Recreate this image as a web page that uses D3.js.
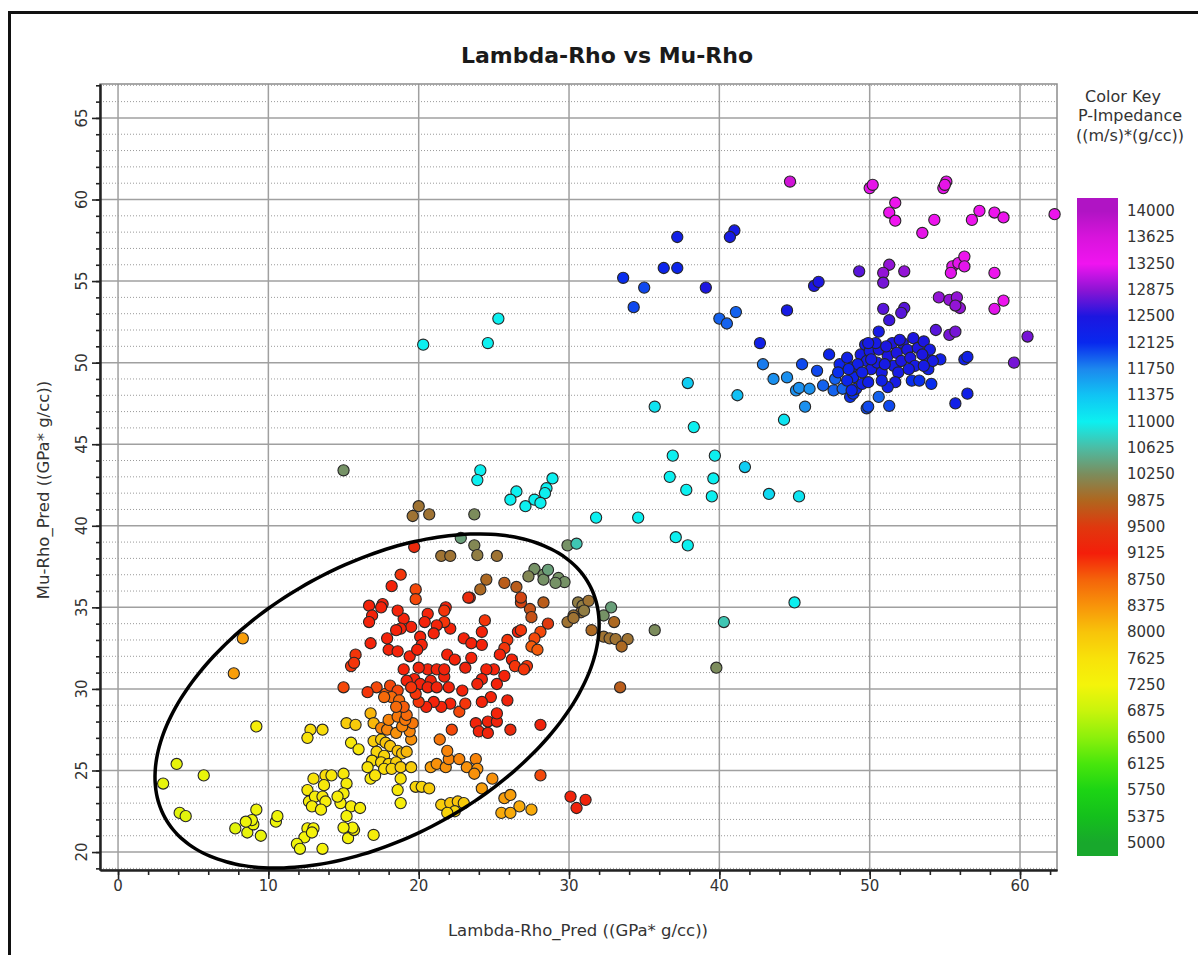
<!DOCTYPE html>
<html>
<head>
<meta charset="utf-8">
<script src="https://cdn.jsdelivr.net/npm/d3@7"></script>
<style>
body { margin: 0; background: #fff; }
text { font-family: "DejaVu Sans", sans-serif; fill: #333; }
</style>
</head>
<body>
<svg id="chart"></svg>
<script>
// tick labels
var xTicks = [0, 10, 20, 30, 40, 50, 60];
var yTicks = [20, 25, 30, 35, 40, 45, 50, 55, 60, 65];
// color key (P-Impedance)
var keyValues = [5000, 5375, 5750, 6125, 6500, 6875, 7250, 7625, 8000, 8375, 8750, 9125, 9500,
                 9875, 10250, 10625, 11000, 11375, 11750, 12125, 12500, 12875, 13250, 13625, 14000];
var keyColors = ["#18a82c", "#14c01c", "#1cd414", "#48e60c", "#8cf00c", "#c8f40c", "#f4f40a",
                 "#f8e20a", "#f8c40a", "#f8940a", "#f4640a", "#f41e0a", "#e0380e", "#b0661e",
                 "#7c8c5c", "#4cbca4", "#0cf0f0", "#10c4f4", "#1c88ee", "#0828ee", "#1c16e0",
                 "#8c14d4", "#f014f0", "#d814dc", "#b014c4"];

// points: [Lambda-Rho, Mu-Rho, P-Impedance]
var yellowPts = [
  [7.7,30.95,8300],[8.3,33.1,8300],[9.2,27.7,7400],[12.8,27.5,7700],[13.6,27.5,7700],[12.6,27.0,7600],
  [3.9,25.4,7150],[5.7,24.7,7150],[3.0,24.2,7150],[4.1,22.4,7100],[4.5,22.2,7100],[9.2,22.6,7200],
  [7.8,21.45,7100],[8.6,21.2,7150],[9.0,21.7,7200],[8.9,21.96,7200],[8.5,21.86,7200],[9.5,21.0,7150],
  [10.5,21.86,7200],[10.6,22.2,7200],[13.0,24.5,7600],[13.8,24.7,7700],[12.6,23.8,7500],[13.7,24.1,7500],
  [12.7,23.1,7400],[13.1,23.4,7400],[13.6,23.4,7500],[12.9,22.8,7400],[13.8,23.1,7400],[13.5,22.6,7400],
  [12.6,21.45,7300],[13.0,21.45,7300],[12.4,20.9,7250],[11.9,20.5,7200],[12.1,20.2,7200],[12.9,21.2,7300],
  [13.6,20.2,7300],[15.3,20.85,7300],[15.7,21.35,7400],[17.0,21.05,7400],
  [15.0,24.8,7500],[15.2,24.2,7400],[15.0,23.6,7400],[14.8,23.0,7400],[15.5,22.8,7400],[16.1,22.7,7400],
  [15.2,22.2,7300],[15.6,21.5,7300],[15.0,21.5,7300],[14.2,24.7,7500],[14.6,23.4,7400],
  [15.5,26.7,7500],[16.0,26.3,7500],[17.0,26.8,7900],[17.5,26.9,7900],[17.8,26.7,8000],[18.1,26.5,8000],
  [18.6,26.2,8000],[18.9,26.05,8000],[19.2,26.15,8100],[17.2,26.15,7800],[17.7,25.9,7800],[16.9,25.6,7700],
  [17.5,25.5,7800],[18.0,25.4,7800],[18.5,25.5,7900],[16.6,25.2,7600],[17.7,25.1,7700],[18.2,25.1,7800],
  [18.8,25.2,7900],[19.5,25.2,7900],[16.8,24.5,7500],[17.1,24.7,7600],[18.8,24.5,7600],[18.6,23.8,7500],
  [18.8,23.0,7400],[19.8,24.0,7800],[20.2,24.0,7800],[20.7,23.9,7900],[15.2,27.9,7900],[15.8,27.8,7900],
  [16.8,28.5,8100],[17.0,27.9,8100],[21.5,22.9,7900],[22.1,23.0,8000],[22.6,23.1,8000],[23.0,23.0,7900],
  [22.4,22.5,7800],[21.9,22.4,7800]
];
var orangePts = [
  [17.5,27.6,8500],[17.9,27.5,8500],[18.5,27.3,8400],[19.5,26.9,8400],[19.4,27.4,8500],[18.9,27.7,8500],
  [19.6,27.9,8600],[18.0,28.1,8500],[18.6,28.3,8600],[19.1,28.1,8600],[19.2,28.4,8700],
  [20.8,25.2,8300],[21.2,25.4,8400],[21.8,25.2,8400],[22.0,25.7,8500],[22.7,25.7,8500],[23.2,25.2,8400],
  [23.8,25.7,8500],[23.9,25.1,8400],[21.4,26.9,8600],[21.9,26.2,8500],[22.2,27.5,8900],[22.7,28.6,8900],
  [23.7,24.8,8400],[24.2,23.9,8300],[24.9,24.5,8400],[25.7,23.3,8300],[26.1,23.5,8300],[26.7,22.8,8200],
  [27.5,22.6,8200],[25.5,22.4,8200],[26.1,22.4,8200],[28.1,24.7,8900],[30.1,23.4,9200],[30.5,22.7,9200],
  [31.1,23.2,9200],[17.2,30.1,8900],[17.8,29.7,8800],[18.1,30.2,8900],[18.6,29.9,8900],[18.2,29.5,8700],
  [18.7,29.3,8700],[19.0,28.9,8800],[17.7,29.5,8700],[18.5,28.9,8700],[15.0,30.1,8900],[16.6,29.8,9000],
  [15.8,32.1,9000],[15.5,31.4,9000],[15.7,31.6,9000]
];
var redPts = [
  [18.8,37.0,9000],[18.2,36.3,9100],[19.8,36.1,8900],[19.8,35.5,8900],[23.4,35.6,9200],
  [16.7,35.1,9100],[16.9,34.5,9100],[16.7,34.1,9100],[17.6,35.2,9200],[17.5,35.0,9100],[16.8,32.8,9100],
  [21.8,35.0,9100],[21.7,34.8,9000],[20.6,34.6,9100],[20.4,34.1,9100],[22.1,33.7,9100],[21.7,34.1,9000],
  [21.2,33.9,9100],[21.0,33.4,9100],[20.1,33.2,9100],[20.2,32.7,9100],[19.5,33.8,9100],[19.0,34.3,9100],
  [18.8,33.7,9100],[18.6,34.8,9100],[18.5,33.6,9100],[17.9,33.1,9100],[18.0,32.4,9100],[18.6,32.3,9100],
  [19.4,32.0,9100],[19.9,32.4,9100],[20.6,31.2,9200],[20.0,31.3,9200],[19.0,31.2,9100],[21.2,31.2,9200],
  [20.8,30.5,9200],[21.7,30.75,9200],[19.7,30.6,9100],[20.1,30.3,9200],[19.2,30.5,9100],[20.6,30.1,9200],
  [21.2,30.1,9200],[22.0,30.1,9100],[22.9,29.9,9100],[23.1,29.1,9000],[22.1,29.1,9100],[21.5,28.9,9100],
  [21.0,29.2,9100],[20.5,28.9,9100],[20.0,29.2,9000],[19.8,29.7,9000],[19.5,30.1,9000],
  [24.4,34.2,9000],[24.2,33.5,9100],[23.0,33.1,9100],[23.5,32.8,9100],[24.2,32.7,9100],[21.9,32.1,9100],
  [22.4,31.8,9100],[21.7,31.2,9200],[23.1,31.3,9200],[23.5,31.9,9100],
  [25.9,33.0,9000],[25.7,32.5,9000],[25.4,32.1,9100],[26.2,31.8,9100],[26.4,31.4,9000],[25.7,30.8,9100],
  [25.2,30.3,9100],[25.0,31.2,9100],[24.5,31.2,9100],[24.2,30.6,9200],[23.9,30.3,9200],
  [26.6,33.5,9100],[26.8,33.6,9000],[28.6,34.0,9500],[28.1,33.5,8900],[27.7,33.1,8900],[27.5,32.6,8800],
  [27.9,32.4,8800],[27.2,31.4,9000],[27.0,31.2,9000],
  [23.8,27.9,9200],[24.0,27.4,9200],[24.6,27.3,9200],[24.6,28.0,9200],[25.2,28.0,9200],[25.2,28.5,9100],
  [24.8,29.5,9100],[24.2,29.2,9100],[25.9,29.3,9200],[26.1,27.5,9300],[28.1,27.8,9200],
  [19.7,38.7,9300],[23.3,35.6,9300]
];
var olivePts = [
  [27.4,34.9,9700],[27.5,34.4,9700],[26.8,35.3,9600],[26.8,35.6,9600],[28.3,35.3,9800],
  [24.5,36.7,9900],[25.7,36.5,9800],[26.5,36.25,9800],[24.1,36.1,9900],
  [27.7,37.35,10300],[27.3,36.9,10200],[28.3,37.0,10300],[28.3,36.7,10300],[29.3,36.8,10300],
  [29.7,36.55,10300],[28.6,37.3,10400],[29.1,36.5,10300],
  [30.6,35.3,10100],[30.9,35.1,10100],[31.3,35.4,10000],[30.8,34.7,10000],[31.0,34.8,10100],[30.3,34.5,10000],
  [32.8,35.0,10400],[32.3,34.5,10300],[29.9,34.1,10000],[30.3,34.35,10000],[33.0,34.1,9900],[31.5,33.6,9900],
  [32.3,33.2,10000],[32.7,33.1,10000],[33.1,33.05,10000],[33.9,33.05,10000],[33.5,32.6,9900],
  [35.7,33.6,10250],[33.4,30.1,9800],[39.8,31.3,10250],
  [20.0,41.2,10000],[19.6,40.6,10000],[20.7,40.7,10000],[23.7,40.7,10250],[22.8,39.25,10400],
  [23.7,38.8,10200],[23.9,38.2,10100],[25.2,38.15,10000],[21.5,38.15,10000],[22.1,38.15,10000],
  [29.9,38.8,10300],[15.0,43.4,10300]
];
var cyanPts = [
  [30.5,38.9,10700],[40.3,34.1,10700],[45.0,35.3,11000],
  [31.8,40.5,11000],[34.6,40.5,11000],[37.1,39.3,11000],[37.9,38.8,11000],
  [36.9,44.3,11000],[39.7,44.3,11000],[41.7,43.6,11300],[36.7,43.0,11000],[39.6,42.9,11000],
  [37.8,42.2,11000],[39.5,41.8,11000],[43.3,41.95,11200],[45.3,41.8,11100],
  [24.1,43.4,11000],[23.9,42.8,11000],[26.5,42.1,11000],[26.1,41.6,11000],[28.9,42.9,11000],
  [28.5,42.3,11000],[28.4,42.0,11000],[27.7,41.6,11000],[28.1,41.4,11000],[27.1,41.2,11000],
  [25.3,52.7,11000],[20.3,51.1,11000],[24.6,51.2,11000],
  [35.7,47.3,11100],[38.3,46.05,11000],[44.3,46.5,11100],[37.9,48.75,11300],[41.2,48.0,11400]
];
var bluePts = [
  [33.6,55.2,12100],[35.0,54.6,12000],[36.3,55.8,12200],[37.2,55.8,12200],[37.2,57.7,12300],
  [34.3,53.4,12000],[39.1,54.6,12500],[41.0,58.1,12400],[40.7,57.7,12400],[46.3,54.7,12500],
  [46.6,54.95,12500],[40.0,52.7,11900],[40.5,52.4,11900],[41.1,53.1,11900],[44.5,53.2,12400],
  [50.6,51.9,12400],[42.7,51.2,12300],[42.9,49.9,11800],[43.6,49.0,11700],[44.5,49.1,11700],
  [45.5,49.9,12000],[46.5,49.5,12000],[47.3,50.5,12200],[45.1,48.3,11700],[45.3,48.45,11700],
  [46.0,48.4,11700],[45.7,47.3,11700],[46.9,48.6,11900],[47.6,48.3,11900],[47.7,49.0,11900],
  [48.2,48.4,11900],[48.7,47.9,12100],[48.9,48.1,12100],[49.8,47.2,12000],[49.9,47.3,12000],
  [50.6,47.9,11900],[51.3,47.35,12000],[52.8,48.9,12100],[53.3,48.9,12100],[54.1,48.7,12100],
  [54.7,50.2,12300],[56.3,50.2,12300],[56.5,50.35,12300],[56.5,48.1,12300],[55.7,47.5,12300],
  [48.0,49.9,12200],[48.5,50.3,12300],[48.8,49.7,12300],[48.9,49.1,12200],[49.4,50.5,12400],
  [49.7,51.1,12400],[49.8,50.1,12400],[50.0,50.7,12400],[50.1,49.6,12400],[50.5,50.0,12400],
  [50.6,50.8,12500],[50.8,49.4,12400],[51.2,50.4,12500],[51.5,51.2,12500],[51.6,49.8,12400],
  [51.8,50.6,12500],[51.9,49.4,12400],[52.1,50.1,12500],[52.2,51.2,12500],[52.5,50.8,12500],
  [52.7,50.3,12500],[52.9,51.5,12500],[53.0,49.8,12400],[53.2,50.9,12500],[53.6,51.3,12500],
  [53.7,50.4,12400],[53.9,49.6,12300],[54.0,50.8,12400],[54.2,50.1,12400],[48.5,48.9,12200],
  [49.1,48.4,12200],[49.5,48.7,12300],[48.8,48.3,12200],[51.7,48.8,12400],[51.2,48.5,12300],
  [50.8,48.9,12300],[49.9,48.8,12300],[52.6,49.6,12400],[47.9,49.4,12100],[49.2,49.9,12300],
  [50.4,51.2,12400],[51.0,49.9,12400],[53.6,49.8,12400],[49.9,51.2,12400],[48.6,49.6,12200],
  [51.1,51.0,12500],[52.0,51.4,12500],[53.5,50.5,12500],[50.1,50.2,12400],[49.5,49.4,12300]
];
var purplePts = [
  [44.7,61.1,13700],[50.0,60.7,13400],[50.2,60.9,13400],[54.9,60.7,13400],[55.1,61.1,13400],
  [55.0,60.9,13400],[51.7,59.8,13300],[51.3,59.2,13300],[51.7,58.7,13250],[54.3,58.75,13300],
  [53.5,57.95,13400],[56.8,58.75,13300],[57.3,59.3,13300],[58.3,59.2,13300],[58.9,58.9,13300],
  [62.3,59.1,13300],[49.3,55.6,12700],[51.3,56.0,12900],[50.9,55.5,12900],[50.9,54.9,12800],
  [52.3,55.6,12900],[55.5,55.9,13200],[55.9,56.1,13200],[56.3,56.5,13300],[56.3,55.9,13200],
  [55.4,55.5,13200],[58.3,55.5,13300],[58.9,53.8,13300],[58.3,53.3,13200],[54.6,54.0,12900],
  [55.3,53.85,12900],[55.8,54.0,12900],[56.0,53.35,12900],[55.7,53.5,12900],[50.9,53.3,12700],
  [51.3,52.6,12600],[52.3,53.35,12700],[52.1,53.05,12700],[54.4,52.0,12700],[55.3,51.7,12800],
  [55.7,51.9,12800],[60.5,51.6,12800],[59.6,50.0,12800]
];
// annotation ellipse in data units: centre and two conjugate half-axes
var ellipseCenter = [17.23, 29.26];
var ellipseU = [14.11, 7.15];
var ellipseV = [4.37, -7.33];

var W = 1198, H = 955;
var svg = d3.select("#chart").attr("width", W).attr("height", H);
svg.append("rect").attr("width", W).attr("height", H).attr("fill", "#fff");
// outer frame
svg.append("rect").attr("x", 9.5).attr("y", 12.5).attr("width", 1200).attr("height", 960)
  .attr("fill", "none").attr("stroke", "#111").attr("stroke-width", 3);

var pLeft = 100, pRight = 1057, pTop = 84, pBottom = 870;
var x = d3.scaleLinear().domain([-1.2, 62.46]).range([pLeft, pRight]);
var y = d3.scaleLinear().domain([18.9, 67.08]).range([pBottom, pTop]);

var color = d3.scaleLinear().domain(keyValues).range(keyColors).clamp(true);

var g = svg.append("g");
// minor dotted horizontal grid
var yMinor = d3.range(19, 68).filter(function(d){ return d % 5 != 0; });
g.selectAll(".ymin").data(yMinor).enter().append("line")
  .attr("x1", pLeft).attr("x2", pRight)
  .attr("y1", function(d){ return y(d); }).attr("y2", function(d){ return y(d); })
  .attr("stroke", "#9a9a9a").attr("stroke-width", 1).attr("stroke-dasharray", "1,2");
// major grid
g.selectAll(".ymaj").data(yTicks).enter().append("line")
  .attr("x1", pLeft).attr("x2", pRight)
  .attr("y1", function(d){ return y(d); }).attr("y2", function(d){ return y(d); })
  .attr("stroke", "#a0a0a0").attr("stroke-width", 1.5);
g.selectAll(".xmaj").data(xTicks).enter().append("line")
  .attr("y1", pTop).attr("y2", pBottom)
  .attr("x1", function(d){ return x(d); }).attr("x2", function(d){ return x(d); })
  .attr("stroke", "#a0a0a0").attr("stroke-width", 1.5);
// plot frame
g.append("rect").attr("x", pLeft).attr("y", pTop).attr("width", pRight - pLeft).attr("height", pBottom - pTop)
  .attr("fill", "none").attr("stroke", "#8c8c8c").attr("stroke-width", 1.5);

// axes
var yAxisMinor = d3.axisLeft(y).tickValues(d3.range(19, 68)).tickSize(4).tickSizeOuter(0).tickFormat("");
var yAxis = d3.axisLeft(y).tickValues(yTicks).tickSize(8).tickSizeOuter(0).tickFormat("");
var xAxisMinor = d3.axisBottom(x).tickValues(d3.range(0, 63, 2)).tickSize(5).tickSizeOuter(0).tickFormat("");
var xAxis = d3.axisBottom(x).tickValues(xTicks).tickSize(9).tickSizeOuter(0).tickFormat("");
[svg.append("g").attr("transform", "translate(" + pLeft + ",0)").call(yAxisMinor),
 svg.append("g").attr("transform", "translate(" + pLeft + ",0)").call(yAxis),
 svg.append("g").attr("transform", "translate(0," + pBottom + ")").call(xAxisMinor),
 svg.append("g").attr("transform", "translate(0," + pBottom + ")").call(xAxis)].forEach(function(a){
  a.selectAll("line").attr("stroke", "#222").attr("stroke-width", 1.6);
  a.select(".domain").attr("stroke", "#222").attr("stroke-width", 2);
});

// tick labels
svg.selectAll(".xl").data(xTicks).enter().append("text")
  .attr("x", function(d){ return x(d); }).attr("y", 886)
  .attr("text-anchor", "middle").attr("dominant-baseline", "central")
  .style("font-size", "15px").text(function(d){ return d; });
svg.selectAll(".yl").data(yTicks).enter().append("text")
  .attr("transform", function(d){ return "translate(82," + y(d) + ") rotate(-90)"; })
  .attr("text-anchor", "middle").attr("dominant-baseline", "central")
  .style("font-size", "15px").text(function(d){ return d; });

// points
var allPts = yellowPts.concat(orangePts, redPts, olivePts, cyanPts, bluePts, purplePts);
svg.append("g").selectAll("circle").data(allPts).enter().append("circle")
  .attr("cx", function(d){ return x(d[0]); })
  .attr("cy", function(d){ return y(d[1]); })
  .attr("r", 5.6)
  .attr("fill", function(d){ return color(d[2]); })
  .attr("stroke", "#262626").attr("stroke-width", 1.1);

// ellipse annotation
var tt = d3.range(0, 360, 3);
var ell = d3.line()
  .x(function(t){ var a = t * Math.PI / 180; return x(ellipseCenter[0] + ellipseU[0] * Math.cos(a) + ellipseV[0] * Math.sin(a)); })
  .y(function(t){ var a = t * Math.PI / 180; return y(ellipseCenter[1] + ellipseU[1] * Math.cos(a) + ellipseV[1] * Math.sin(a)); })
  .curve(d3.curveCardinalClosed);
svg.append("path").attr("d", ell(tt)).attr("fill", "none")
  .attr("stroke", "#000").attr("stroke-width", 3.5);

// titles
svg.append("text").attr("x", 607).attr("y", 55).attr("text-anchor", "middle").attr("dominant-baseline", "central")
  .style("font-size", "22px").style("font-weight", "bold").style("fill", "#1a1a1a").text("Lambda-Rho vs Mu-Rho");
svg.append("text").attr("x", 578).attr("y", 930).attr("text-anchor", "middle").attr("dominant-baseline", "central")
  .style("font-size", "16.5px").text("Lambda-Rho_Pred ((GPa* g/cc))");
svg.append("text").attr("transform", "translate(43,490) rotate(-90)").attr("text-anchor", "middle")
  .attr("dominant-baseline", "central").style("font-size", "16.5px").text("Mu-Rho_Pred ((GPa* g/cc))");

// color key
var kTitle = ["Color Key", "P-Impedance", "((m/s)*(g/cc))"];
svg.selectAll(".kt").data(kTitle).enter().append("text")
  .attr("x", function(d, i){ return i == 0 ? 1123 : 1130; })
  .attr("y", function(d, i){ return 96 + i * 19.5; })
  .attr("text-anchor", "middle").attr("dominant-baseline", "central")
  .style("font-size", "16px").text(function(d){ return d; });

var ky = d3.scaleLinear().domain([4812.5, 14187.5]).range([856, 198]);
var grad = svg.append("defs").append("linearGradient").attr("id", "kgrad")
  .attr("x1", 0).attr("y1", 1).attr("x2", 0).attr("y2", 0);
grad.selectAll("stop").data(keyValues).enter().append("stop")
  .attr("offset", function(d){ return (d - 4812.5) / 9375; })
  .attr("stop-color", function(d){ return color(d); });
svg.append("rect").attr("x", 1077).attr("y", ky(14187.5)).attr("width", 41)
  .attr("height", ky(4812.5) - ky(14187.5)).attr("fill", "url(#kgrad)");
svg.selectAll(".kl").data(keyValues).enter().append("text")
  .attr("x", 1127).attr("y", function(d){ return ky(d); })
  .attr("dominant-baseline", "central").style("font-size", "15px").text(function(d){ return d; });
</script>
</body>
</html>
